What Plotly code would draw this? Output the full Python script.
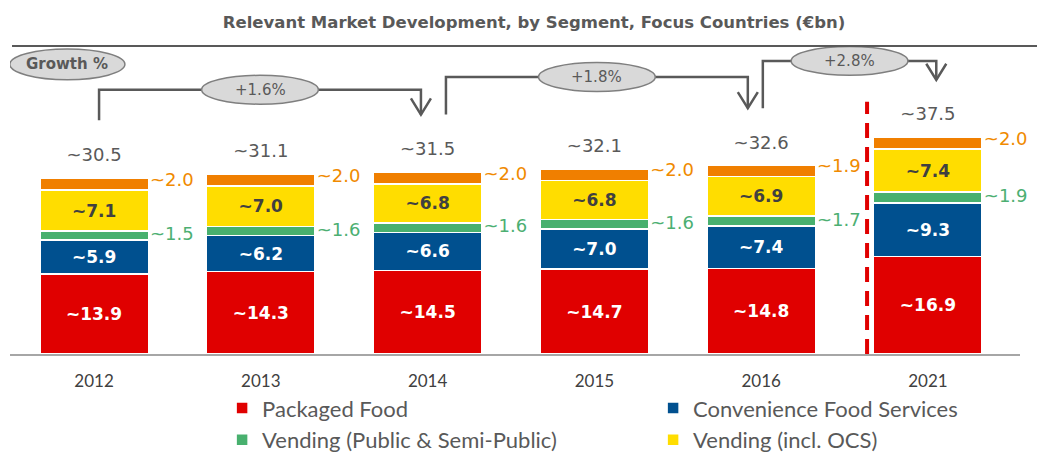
import plotly.graph_objects as go

# ── data (€bn) ────────────────────────────────────────────────────────────────
years = ["2012", "2013", "2014", "2015", "2016", "2021"]
packaged_food = [13.9, 14.3, 14.5, 14.7, 14.8, 16.9]
convenience_food = [5.9, 6.2, 6.6, 7.0, 7.4, 9.3]
vending_public = [1.5, 1.6, 1.6, 1.6, 1.7, 1.9]
vending_ocs = [7.1, 7.0, 6.8, 6.8, 6.9, 7.4]
other = [2.0, 2.0, 2.0, 2.0, 1.9, 2.0]
totals = [30.5, 31.1, 31.5, 32.1, 32.6, 37.5]
# (from index, to index, CAGR label)
growth = [(0, 2, "+1.6%"), (2, 4, "+1.8%"), (4, 5, "+2.8%")]

RED, BLUE, GREEN, YELLOW, ORANGE = "#e00000", "#00508f", "#48b06e", "#ffdd00", "#f07f00"
GREY_TXT = "#595959"
NUM_FONT = "DejaVu Sans"
COND_FONT = "Lato, Roboto, sans-serif"
BAR_W = 0.65

xs = list(range(len(years)))


def tilde(v):
    return [f"~{x:.1f}" for x in v]


fig = go.Figure()
series = [
    ("Packaged Food", packaged_food, RED, "white", True),
    ("Convenience Food Services", convenience_food, BLUE, "white", True),
    ("Vending (Public & Semi-Public)", vending_public, GREEN, None, True),
    ("Vending (incl. OCS)", vending_ocs, YELLOW, "#404040", True),
    ("Other", other, ORANGE, None, False),
]
for name, vals, color, txtcol, legend in series:
    fig.add_trace(go.Bar(
        x=xs, y=vals, name=name, width=BAR_W,
        marker=dict(color=color, line=dict(color="white", width=1.5)),
        text=tilde(vals) if txtcol else None,
        textposition="inside" if txtcol else "none",
        insidetextanchor="middle", textangle=0,
        textfont=dict(family=NUM_FONT, size=17, color=txtcol or "white",
                      weight="bold"),
        showlegend=legend, hoverinfo="skip",
    ))

# outside labels for the thin segments
base_green = [a + b for a, b in zip(packaged_food, convenience_food)]
mid_green = [b + g / 2 for b, g in zip(base_green, vending_public)]
base_orange = [b + g + y for b, g, y in zip(base_green, vending_public, vending_ocs)]
mid_orange = [b + o / 2 + 0.5 for b, o in zip(base_orange, other)]
lab_x = [x + BAR_W / 2 + 0.01 for x in xs]
fig.add_trace(go.Scatter(
    x=lab_x, y=mid_green, mode="text", text=tilde(vending_public),
    textposition="middle right", cliponaxis=False,
    textfont=dict(family=NUM_FONT, size=18, color="#4caf72"),
    showlegend=False, hoverinfo="skip",
))
fig.add_trace(go.Scatter(
    x=lab_x, y=mid_orange, mode="text", text=tilde(other),
    textposition="middle right", cliponaxis=False,
    textfont=dict(family=NUM_FONT, size=18, color="#f08a00"),
    showlegend=False, hoverinfo="skip",
))
# totals
fig.add_trace(go.Scatter(
    x=xs, y=[t + 2.2 for t in totals], mode="text", text=tilde(totals),
    textposition="top center", cliponaxis=False,
    textfont=dict(family=NUM_FONT, size=18, color=GREY_TXT),
    showlegend=False, hoverinfo="skip",
))

# ── decorations ───────────────────────────────────────────────────────────────
line_c = "#595959"
ell_fill, ell_line = "#d9d9d9", "#7f7f7f"
shapes = []
annots = []


def ellipse(cx, cy, w, h, text, bold=False):
    shapes.append(dict(type="circle", xref="x", yref="y",
                       x0=cx - w / 2, x1=cx + w / 2, y0=cy - h / 2, y1=cy + h / 2,
                       fillcolor=ell_fill, line=dict(color=ell_line, width=1.5),
                       layer="above"))
    annots.append(dict(x=cx, y=cy, xref="x", yref="y", text=text, showarrow=False,
                       font=dict(family=NUM_FONT, size=15, color=GREY_TXT,
                                 weight="bold" if bold else "normal")))


# bracket tweaks: x offset at start / end, lift of the top rail
offsets = [(0.03, -0.04, 4.3), (0.11, -0.08, 5.4), (0.01, 0.05, 3.3)]
for (i, j, lab), (oi, oj, lift) in zip(growth, offsets):
    x0, x1 = xs[i] + oi, xs[j] + oj
    y0, y1 = totals[i] + 10.0, totals[j] + 10.0
    top = max(y0, y1) + lift
    shapes.append(dict(type="path", xref="x", yref="y",
                       path=f"M {x0},{y0} L {x0},{top} L {x1},{top} L {x1},{y1}",
                       line=dict(color=line_c, width=2.5)))
    shapes.append(dict(type="path", xref="x", yref="y",
                       path=f"M {x1 - 0.06},{y1 + 2.8} L {x1},{y1} L {x1 + 0.06},{y1 + 2.8}",
                       line=dict(color=line_c, width=2.5)))
    ellipse((x0 + x1) / 2, top, 0.7, 5.0, lab)

ellipse(-0.16, 50.2, 0.69, 5.3, "Growth %", bold=True)

# forecast separator
sep_x = xs[-1] - BAR_W / 2 - 0.04
shapes.append(dict(type="line", xref="x", yref="y", x0=sep_x, x1=sep_x,
                   y0=0, y1=totals[-1] + 6.2,
                   line=dict(color=RED, width=4, dash="15px,9px")))
# rule under the title
shapes.append(dict(type="line", xref="paper", yref="paper", x0=0.002, x1=1.017,
                   y0=1, y1=1, line=dict(color="#595959", width=2)))

fig.update_layout(
    width=1037, height=452,
    barmode="stack",
    plot_bgcolor="white", paper_bgcolor="white",
    margin=dict(l=10, r=17, t=46, b=98, autoexpand=False),
    title=dict(text="<b>Relevant Market Development, by Segment, Focus Countries (€bn)</b>",
               x=0.515, xanchor="center", y=1 - 22 / 452, yanchor="middle",
               yref="container",
               font=dict(family=NUM_FONT, size=16.5, color=GREY_TXT)),
    xaxis=dict(range=[-0.504, 5.552], tickvals=xs, ticktext=years,
               showline=True, linecolor="#a6a6a6", linewidth=2,
               showgrid=False, zeroline=False, ticks="", ticklabelstandoff=11,
               tickfont=dict(family=COND_FONT, size=17, color="#404040")),
    yaxis=dict(range=[0, 53.38], visible=False),
    legend=dict(orientation="h", x=0.21, xanchor="left", y=-0.108, yanchor="top",
                entrywidth=386, traceorder="normal",
                font=dict(family=COND_FONT, size=22, color=GREY_TXT),
                itemwidth=30),
    shapes=shapes, annotations=annots,
)

# drop the page's default body margin so the figure sits at the window origin
fig.write_html("out.html", config={"displayModeBar": False},
               post_script="document.body.style.margin='0';")
